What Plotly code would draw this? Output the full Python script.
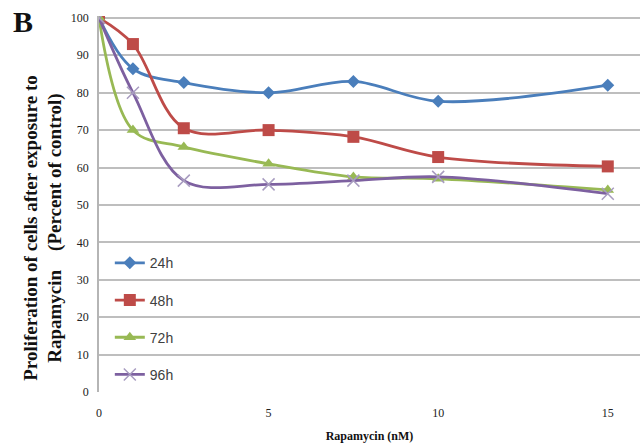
import plotly.graph_objects as go

# Rapamycin concentrations (nM)
dose = [0, 1, 2.5, 5, 7.5, 10, 15]

# Cell proliferation, percent of control, per exposure time
series_names = ["24h", "48h", "72h", "96h"]
prolif_24h = [100, 86.4, 82.7, 80.0, 83.0, 77.7, 82.0]
prolif_48h = [100, 93.0, 70.5, 70.0, 68.2, 62.8, 60.3]
prolif_72h = [100, 70.0, 65.5, 61.0, 57.5, 57.0, 54.0]
prolif_96h = [100, 80.0, 56.5, 55.5, 56.5, 57.5, 53.0]

x_ticks = [0, 5, 10, 15]
y_ticks = list(range(0, 101, 10))

colors = ["#4A7EBB", "#BE4B48", "#98B954", "#7D60A0"]
symbols = ["diamond", "square", "triangle-up", "x-thin"]
marker_sizes = [10, 12, 11, 12]
values = [prolif_24h, prolif_48h, prolif_72h, prolif_96h]

fig = go.Figure()
for name, vals, col, sym, ms in zip(series_names, values, colors, symbols, marker_sizes):
    marker = dict(symbol=sym, size=ms, color=col)
    if sym == "x-thin":
        marker = dict(symbol=sym, size=ms, color="#A89CC0",
                      line=dict(width=1.5, color="#A89CC0"))
    fig.add_trace(go.Scatter(
        x=dose, y=vals, name=name, mode="lines+markers",
        line=dict(color=col, width=2.8, shape="spline", smoothing=1.0),
        marker=marker, legendgroup=name,
    ))

serif = "Liberation Serif, Times New Roman"

fig.update_layout(
    width=644, height=447,
    margin=dict(l=99, r=4, t=16, b=55),
    paper_bgcolor="white", plot_bgcolor="white",
    showlegend=True,
    legend=dict(
        x=0.02, y=0.385, xanchor="left", yanchor="top",
        bgcolor="rgba(0,0,0,0)",
        font=dict(family="Liberation Sans, Arial", size=14, color="#404040"),
        tracegroupgap=16, itemwidth=30,
    ),
    xaxis=dict(
        range=[0, 15.95], tickvals=x_ticks, ticktext=[str(t) for t in x_ticks],
        showgrid=False, zeroline=False, showline=False,
        ticks="outside", ticklen=10, tickcolor="rgba(0,0,0,0)",
        tickfont=dict(family=serif, size=12, color="#222"),
        title=dict(text="<b>Rapamycin (nM)</b>", standoff=12,
                   font=dict(family=serif, size=12, color="#111")),
    ),
    yaxis=dict(
        range=[0, 100.5], tickvals=y_ticks,
        showgrid=True, gridcolor="#BEBEBE", gridwidth=1.6,
        zeroline=False, showline=True, linecolor="#B5B5B5", linewidth=1.6,
        ticks="outside", ticklen=6, tickcolor="rgba(0,0,0,0)",
        tickfont=dict(family=serif, size=12, color="#222"),
    ),
    annotations=[
        dict(
            text="<b>B</b>", xref="paper", yref="paper", x=-0.163, y=1.035,
            xanchor="left", yanchor="top", showarrow=False,
            font=dict(family=serif, size=30, color="#111"),
        ),
        # two-line rotated y-axis title
        dict(
            text="<b>Proliferation of cells after exposure to<br>Rapamycin    (Percent of control)</b>",
            xref="paper", yref="paper", x=-0.104, y=0.436,
            xanchor="center", yanchor="middle", textangle=-90, showarrow=False,
            font=dict(family=serif, size=19, color="#111"),
        ),
    ],
)

fig.write_html("out.html")
